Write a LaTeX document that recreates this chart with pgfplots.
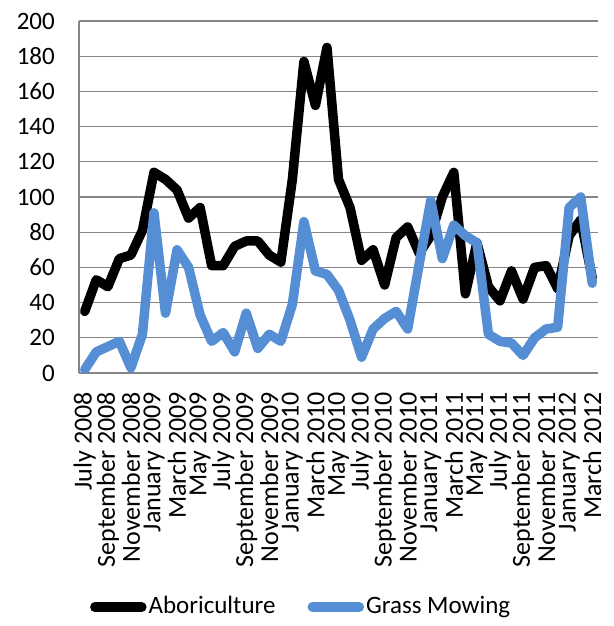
\documentclass[border=0pt]{standalone}
\usepackage{fontspec}
\setmainfont{Carlito}
\usepackage{pgfplots}
\pgfplotsset{compat=1.18}
\definecolor{mowblue}{RGB}{85,142,213}
\definecolor{gridgray}{RGB}{134,134,134}
\begin{document}
\fontsize{25bp}{30bp}\selectfont
\begin{tikzpicture}
\useasboundingbox (0,0) rectangle (614bp,626bp);
\begin{axis}[
  at={(79bp,253bp)}, anchor=south west,
  scale only axis, width=519bp, height=352bp,
  xmin=-0.5, xmax=44.5, ymin=0, ymax=200,
  ytick={0,20,...,200},
  xtick={0,2,...,44},
  xticklabels={July 2008,September 2008,November 2008,January 2009,March 2009,May 2009,July 2009,September 2009,November 2009,January 2010,March 2010,May 2010,July 2010,September 2010,November 2010,January 2011,March 2011,May 2011,July 2011,September 2011,November 2011,January 2012,March 2012},
  xticklabel style={rotate=90, anchor=east, inner sep=0pt, font=\fontsize{26bp}{30bp}\selectfont},
  xticklabel shift={19bp},
  yticklabel style={inner sep=0pt, xshift=-24bp},
  /pgf/number format/assume math mode=true,
  major tick length=0pt,
  axis x line=bottom, axis y line=left,
  axis line style={gridgray, line width=1.2bp, -},
  ymajorgrids, grid style={gridgray, line width=1.2bp},
  every axis plot/.append style={line width=9.5bp, line join=round, line cap=round},
  legend style={at={(axis description cs:0.428,-0.665)}, anchor=center, draw=none, fill=none,
    legend columns=2, font=\fontsize{25bp}{30bp}\selectfont,
    nodes={inner xsep=2bp},
    /tikz/every even column/.append style={column sep=30bp}},
  legend image code/.code={\draw[#1] (0bp,0bp) -- (47bp,0bp);},
]
\addplot[black] coordinates {
(0,35) (1,53) (2,49) (3,65) (4,67) (5,81) (6,114) (7,110) (8,104) (9,88)
(10,94) (11,61) (12,61) (13,72) (14,75) (15,75) (16,67) (17,63) (18,110) (19,177)
(20,152) (21,185) (22,110) (23,94) (24,64) (25,70) (26,50) (27,77) (28,83) (29,68)
(30,78) (31,100) (32,114) (33,45) (34,74) (35,49) (36,41) (37,58) (38,42) (39,60)
(40,61) (41,48) (42,78) (43,87) (44,54)
};
\addlegendentry{Aboriculture}
\addplot[mowblue] coordinates {
(0,2) (1,12) (2,15) (3,18) (4,3) (5,22) (6,91) (7,34) (8,70) (9,60)
(10,33) (11,18) (12,23) (13,12) (14,34) (15,14) (16,22) (17,18) (18,39) (19,86)
(20,58) (21,56) (22,47) (23,30) (24,9) (25,25) (26,31) (27,35) (28,25) (29,62)
(30,98) (31,65) (32,84) (33,78) (34,74) (35,22) (36,18) (37,17) (38,10) (39,20)
(40,25) (41,26) (42,94) (43,100) (44,51)
};
\addlegendentry{Grass Mowing}
\end{axis}
\end{tikzpicture}
\end{document}
